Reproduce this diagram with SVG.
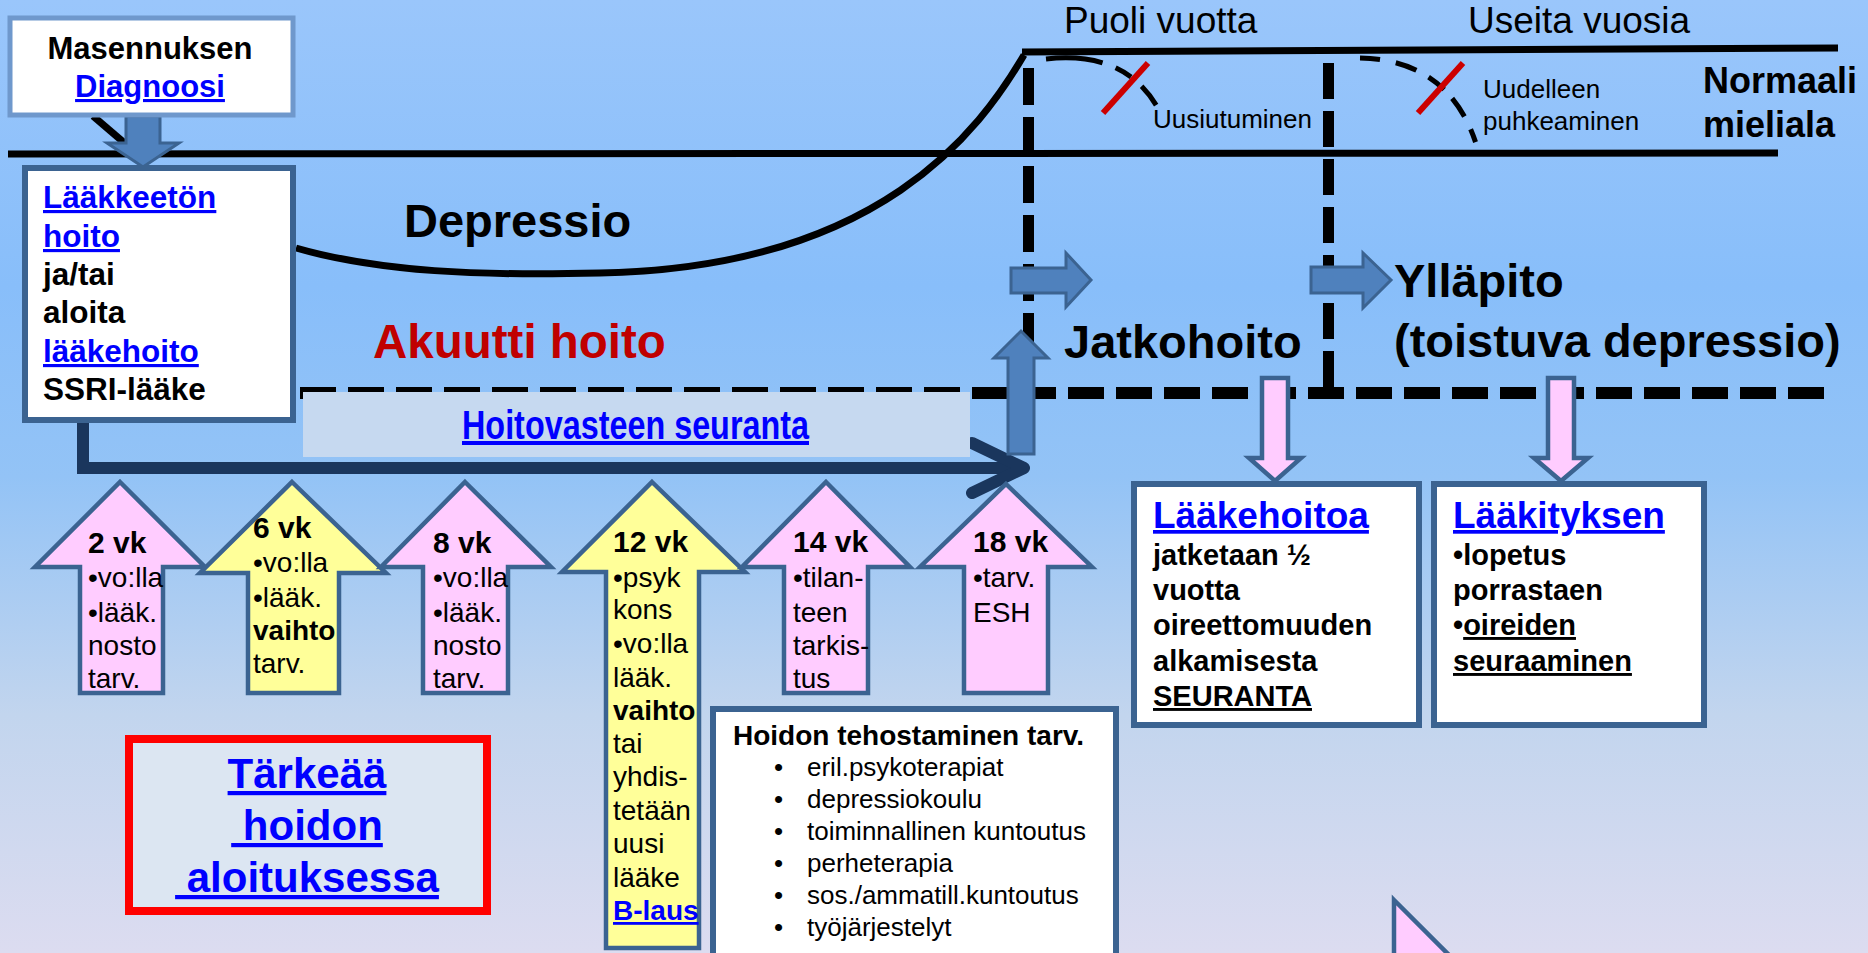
<svg xmlns="http://www.w3.org/2000/svg" width="1868" height="953" viewBox="0 0 1868 953">
  <defs>
    <linearGradient id="bg" x1="0" y1="0" x2="0" y2="1">
      <stop offset="0" stop-color="#9ac6fb"/>
      <stop offset="0.3" stop-color="#88befa"/>
      <stop offset="0.5" stop-color="#93c3f6"/>
      <stop offset="0.75" stop-color="#c2d5ee"/>
      <stop offset="1" stop-color="#dcdcf0"/>
    </linearGradient>
    <style>
      text { font-family: "Liberation Sans", Arial, sans-serif; fill: #000; }
      .b { font-weight: bold; }
      .lnk { fill: #0000ff; text-decoration: underline; }
      .ul { text-decoration: underline; }
      .box { fill: #ffffff; stroke: #3b6391; stroke-width: 6; }
      .up-pink { fill: #ffccff; stroke: #3b6391; stroke-width: 4.5; }
      .up-yellow { fill: #ffff99; stroke: #3b6391; stroke-width: 4.5; }
      .blk { fill: #4f81bd; stroke: #3b6391; stroke-width: 3; }
      .dash { stroke: #000; fill: none; }
      .wk { font-size: 30px; font-weight: bold; }
      .wt { font-size: 28px; }
    </style>
  </defs>

  <!-- background -->
  <rect x="0" y="0" width="1868" height="953" fill="url(#bg)"/>

  <!-- mood lines, episode curve, phase separators -->
  <g id="connectors">
    <line x1="8" y1="154" x2="1778" y2="153" stroke="#000" stroke-width="7"/>
    <line x1="1022" y1="52" x2="1838" y2="48" stroke="#000" stroke-width="7"/>
    <path d="M296,248 C380,272 480,276 600,273 C880,268 980,130 1024,55" fill="none" stroke="#000" stroke-width="7"/>
    <line class="dash" x1="1028.5" y1="68" x2="1028.5" y2="393" stroke-width="11" stroke-dasharray="37 12"/>
    <line class="dash" x1="1328.5" y1="63" x2="1328.5" y2="393" stroke-width="11" stroke-dasharray="36 12"/>
    <line class="dash" x1="300" y1="393" x2="1824" y2="393" stroke-width="12" stroke-dasharray="36 12"/>
    <!-- relapse / recurrence curves with cross marks -->
    <path class="dash" d="M1046,59 Q1128,50 1160,112" stroke-width="5" stroke-dasharray="57 14 18 14 24"/>
    <path class="dash" d="M1360,58 Q1452,60 1478,150" stroke-width="5" stroke-dasharray="20 16 22 14 20 12 22 14 14"/>
    <line x1="1103" y1="113" x2="1148" y2="63" stroke="#cc0000" stroke-width="6"/>
    <line x1="1418" y1="113" x2="1463" y2="63" stroke="#cc0000" stroke-width="6"/>
    <!-- diagnosis link line -->
    <line x1="93" y1="116" x2="128" y2="146" stroke="#000" stroke-width="7"/>
    <!-- treatment timeline arrow -->
    <path d="M83,420 V468 H1022" fill="none" stroke="#1a365d" stroke-width="12"/>
    <path d="M972,443 L1024,468 L972,493" fill="none" stroke="#1a365d" stroke-width="12" stroke-linecap="round" stroke-linejoin="round"/>
    <!-- block arrows -->
    <polygon class="blk" points="126,116 160,116 160,143 179,143 143,167 107,143 126,143"/>
    <polygon class="blk" points="1008,454 1008,358 994,358 1021,331 1048,358 1034,358 1034,454"/>
    <polygon class="blk" points="1011,268 1066,268 1066,253 1091,280 1066,307 1066,293 1011,293"/>
    <polygon class="blk" points="1311,267 1363,267 1363,253 1391,280 1363,308 1363,293 1311,293"/>
    <polygon class="up-pink" points="1262,378 1288,378 1288,458 1301,458 1275,481 1249,458 1262,458"/>
    <polygon class="up-pink" points="1548,378 1574,378 1574,458 1588,458 1561,481 1534,458 1548,458"/>
  </g>

  <!-- response monitoring panel -->
  <g id="seuranta">
    <rect x="303" y="392" width="667" height="65" fill="#c6d9f0"/>
    <text x="462" y="439" class="b lnk" font-size="40" textLength="347" lengthAdjust="spacingAndGlyphs">Hoitovasteen seuranta</text>
  </g>

  <!-- labels -->
  <g id="labels">
    <text x="1064" y="33" font-size="37">Puoli vuotta</text>
    <text x="1468" y="33" font-size="37">Useita vuosia</text>
    <text x="1153" y="128" font-size="26">Uusiutuminen</text>
    <text x="1483" y="98" font-size="26">Uudelleen</text>
    <text x="1483" y="130" font-size="26">puhkeaminen</text>
    <text x="1703" y="93" font-size="36" class="b">Normaali</text>
    <text x="1703" y="137" font-size="36" class="b">mieliala</text>
    <text x="404" y="237" font-size="47" class="b">Depressio</text>
    <text x="373" y="358" font-size="47.5" class="b" style="fill:#c00000">Akuutti hoito</text>
    <text x="1064" y="358" font-size="47" class="b">Jatkohoito</text>
    <text x="1394" y="297" font-size="47" class="b">Ylläpito</text>
    <text x="1394" y="357" font-size="47" class="b">(toistuva depressio)</text>
  </g>

  <g id="diagnoosi">
    <rect x="10" y="18" width="283" height="97" fill="#fff" stroke="#6f98cc" stroke-width="5"/>
    <text x="150" y="59" font-size="31" class="b" text-anchor="middle">Masennuksen</text>
    <text x="150" y="97" font-size="31" class="b lnk" text-anchor="middle">Diagnoosi</text>
  </g>

  <g id="aloitus">
    <rect class="box" x="25" y="168" width="268" height="252"/>
    <g font-size="31.5" class="b">
      <text x="43" y="208" class="b lnk">Lääkkeetön</text>
      <text x="43" y="247" class="b lnk">hoito</text>
      <text x="43" y="285" class="b">ja/tai</text>
      <text x="43" y="323" class="b">aloita</text>
      <text x="43" y="362" class="b lnk">lääkehoito</text>
      <text x="43" y="400" class="b">SSRI-lääke</text>
    </g>
  </g>

  <g id="vk2">
    <polygon class="up-pink" points="120,482 205,567 163,567 163,693 80,693 80,567 35,567"/>
    <text x="88" y="553" class="wk">2 vk</text>
    <text x="88" y="587" class="wt">•vo:lla</text>
    <text x="88" y="622" class="wt">•lääk.</text>
    <text x="88" y="655" class="wt">nosto</text>
    <text x="88" y="688" class="wt">tarv.</text>
  </g>

  <g id="vk6">
    <polygon class="up-yellow" points="292,482 386,573 339,573 339,693 248,693 248,573 200,573"/>
    <text x="253" y="538" class="wk">6 vk</text>
    <text x="253" y="572" class="wt">•vo:lla</text>
    <text x="253" y="607" class="wt">•lääk.</text>
    <text x="253" y="640" class="wt b">vaihto</text>
    <text x="253" y="673" class="wt">tarv.</text>
  </g>

  <g id="vk8">
    <polygon class="up-pink" points="465,482 551,567 508,567 508,693 423,693 423,567 381,567"/>
    <text x="433" y="553" class="wk">8 vk</text>
    <text x="433" y="587" class="wt">•vo:lla</text>
    <text x="433" y="622" class="wt">•lääk.</text>
    <text x="433" y="655" class="wt">nosto</text>
    <text x="433" y="688" class="wt">tarv.</text>
  </g>

  <g id="vk12">
    <polygon class="up-yellow" points="652,482 745,572 699,572 699,948 606,948 606,572 562,572"/>
    <text x="613" y="552" class="wk">12 vk</text>
    <text x="613" y="587" class="wt">•psyk</text>
    <text x="613" y="619" class="wt">kons</text>
    <text x="613" y="653" class="wt">•vo:lla</text>
    <text x="613" y="687" class="wt">lääk.</text>
    <text x="613" y="720" class="wt b">vaihto</text>
    <text x="613" y="753" class="wt">tai</text>
    <text x="613" y="786" class="wt">yhdis-</text>
    <text x="613" y="820" class="wt">tetään</text>
    <text x="613" y="853" class="wt">uusi</text>
    <text x="613" y="887" class="wt">lääke</text>
    <text x="613" y="920" class="wt b lnk">B-laus</text>
  </g>

  <g id="vk14">
    <polygon class="up-pink" points="826,482 910,567 868,567 868,693 784,693 784,567 742,567"/>
    <text x="793" y="552" class="wk">14 vk</text>
    <text x="793" y="587" class="wt">•tilan-</text>
    <text x="793" y="622" class="wt">teen</text>
    <text x="793" y="655" class="wt">tarkis-</text>
    <text x="793" y="688" class="wt">tus</text>
  </g>

  <g id="vk18">
    <polygon class="up-pink" points="1006,484 1092,567 1048,567 1048,693 964,693 964,567 920,567"/>
    <text x="973" y="552" class="wk">18 vk</text>
    <text x="973" y="587" class="wt">•tarv.</text>
    <text x="973" y="622" class="wt">ESH</text>
  </g>

  <g id="tehostaminen">
    <rect class="box" x="713" y="709" width="403" height="260"/>
    <text x="733" y="745" font-size="28" class="b">Hoidon tehostaminen tarv.</text>
    <g font-size="26">
      <text x="774" y="776">•</text><text x="807" y="776">eril.psykoterapiat</text>
      <text x="774" y="808">•</text><text x="807" y="808">depressiokoulu</text>
      <text x="774" y="840">•</text><text x="807" y="840">toiminnallinen kuntoutus</text>
      <text x="774" y="872">•</text><text x="807" y="872">perheterapia</text>
      <text x="774" y="904">•</text><text x="807" y="904">sos./ammatill.kuntoutus</text>
      <text x="774" y="936">•</text><text x="807" y="936">työjärjestelyt</text>
    </g>
  </g>

  <g id="jatkohoito-box">
    <rect class="box" x="1134" y="484" width="285" height="241"/>
    <text x="1153" y="528" font-size="37" class="b lnk">Lääkehoitoa</text>
    <g font-size="29" class="b">
      <text x="1153" y="565" class="b">jatketaan ½</text>
      <text x="1153" y="600" class="b">vuotta</text>
      <text x="1153" y="635" class="b">oireettomuuden</text>
      <text x="1153" y="671" class="b">alkamisesta</text>
      <text x="1153" y="706" class="b ul">SEURANTA</text>
    </g>
  </g>

  <g id="yllapito-box">
    <rect class="box" x="1434" y="484" width="270" height="241"/>
    <text x="1453" y="528" font-size="37" class="b lnk">Lääkityksen</text>
    <g font-size="29" class="b">
      <text x="1453" y="565" class="b">•lopetus</text>
      <text x="1453" y="600" class="b">porrastaen</text>
      <text x="1453" y="635" class="b">•<tspan class="ul">oireiden</tspan></text>
      <text x="1453" y="671" class="b ul">seuraaminen</text>
    </g>
  </g>

  <g id="tarkeaa">
    <rect x="129" y="739" width="358" height="172" fill="#dce6f2" stroke="#ff0000" stroke-width="8"/>
    <g font-size="42" text-anchor="middle">
      <text x="307" y="788" class="b lnk">Tärkeää</text>
      <text x="307" y="840" class="b lnk">&#160;hoidon</text>
      <text x="307" y="892" class="b lnk">&#160;aloituksessa</text>
    </g>
  </g>

  <!-- arrow head entering from below -->
  <g id="alareuna">
    <polygon class="up-pink" points="1394,900 1454,960 1394,960"/>
  </g>
</svg>
